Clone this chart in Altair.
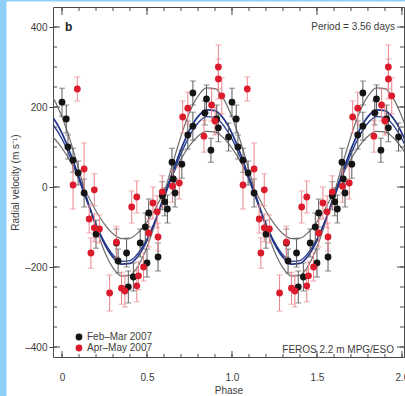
import altair as alt
import pandas as pd

# ---- data (phase-folded, shown twice) ----
BLACK_PHASE = [0.00, 0.025, 0.035, 0.065, 0.095, 0.13, 0.20, 0.32, 0.33, 0.38, 0.39, 0.42,
               0.46, 0.49, 0.50, 0.51, 0.565, 0.59, 0.605, 0.62, 0.647, 0.655, 0.665, 0.705,
               0.74, 0.77, 0.77, 0.84, 0.85, 0.876, 0.91, 0.92, 0.98]
BLACK_RV = [212, 170, 100, 67, 35, -15, -118, -140, -185, -165, -250, -225,
            -140, -100, -190, -65, -175, -22, -37, -55, 62, 20, -15, 57,
            130, 152, 235, 185, 220, 92, 170, 148, 125]
BLACK_ERR = [35, 35, 30, 30, 30, 35, 35, 35, 30, 35, 40, 35,
             35, 35, 35, 35, 35, 35, 35, 35, 35, 35, 35, 35,
             35, 35, 30, 30, 35, 30, 35, 35, 35]

RED_PHASE = [0.065, 0.09, 0.13, 0.16, 0.17, 0.19, 0.19, 0.22, 0.28, 0.32, 0.35, 0.37,
             0.41, 0.44, 0.44, 0.45, 0.48, 0.51, 0.535, 0.56, 0.565, 0.59, 0.65, 0.69,
             0.71, 0.74, 0.835, 0.88, 0.90, 0.92, 0.92, 0.94]
RED_RV = [5, 245, 45, -80, -165, -7, -102, -105, -265, -138, -253, -260,
          -50, -25, -247, -222, -200, -115, -40, -62, -125, -12, 2, 10,
          175, 197, 127, 205, 165, 300, 270, 228]
RED_ERR = [60, 30, 65, 35, 38, 40, 35, 35, 45, 40, 40, 40,
           40, 40, 40, 35, 35, 35, 40, 40, 35, 40, 40, 40,
           40, 40, 40, 40, 35, 55, 50, 45]

SERIES = ["Feb\u2013Mar 2007", "Apr\u2013May 2007"]

CURVE_PHASE = [0.00, 0.05, 0.10, 0.15, 0.20, 0.25, 0.30, 0.35, 0.40, 0.45,
               0.50, 0.55, 0.60, 0.65, 0.70, 0.75, 0.80, 0.85, 0.90, 0.95]
OUTER_GREY = [175, 114, 42, -32, -102, -161, -202, -223, -221, -196,
              -150, -89, -17, 57, 127, 186, 227, 248, 246, 221]
BLUE_A = [134, 83, 24, -36, -94, -142, -176, -193, -191, -171,
          -134, -83, -24, 36, 94, 142, 176, 193, 191, 171]
BLUE_B = [120, 73, 18, -39, -93, -138, -170, -186, -184, -164,
          -130, -83, -28, 29, 83, 128, 160, 176, 174, 154]
INNER_GREY = [97, 63, 22, -20, -60, -93, -117, -129, -128, -113,
              -87, -53, -12, 30, 70, 103, 127, 139, 138, 123]

X_TICKS = [0, 0.5, 1.0, 1.5, 2.0]
X_MINOR = [0, 0.1, 0.2, 0.3, 0.4, 0.5, 0.6, 0.7, 0.8, 0.9, 1.0,
           1.1, 1.2, 1.3, 1.4, 1.5, 1.6, 1.7, 1.8, 1.9, 2.0]
Y_TICKS = [-400, -200, 0, 200, 400]
Y_MINOR = [-400, -350, -300, -250, -200, -150, -100, -50, 0,
           50, 100, 150, 200, 250, 300, 350, 400]

PANEL = "b"
PERIOD_TEXT = "Period = 3.56 days"
INSTRUMENT_TEXT = "FEROS 2.2 m MPG/ESO"

# ---- layout ----
W, H = 351, 350
FONT = "Liberation Sans"
TXT = "#3c3c3c"
AX = "#4a4a4a"

xs = alt.Scale(domain=[-0.053, 2.012], nice=False, zero=False)
ys = alt.Scale(domain=[-425, 450], nice=False, zero=False)

x_axis = alt.Axis(values=X_TICKS, ticks=False, domain=False, grid=False,
                  labelExpr="datum.value == 0 ? '0' : format(datum.value, '.1f')",
                  labelPadding=15, labelFontSize=10, labelColor=TXT, labelFont=FONT,
                  title="Phase", titlePadding=3, titleFontSize=10, titleColor=TXT,
                  titleFont=FONT, titleFontWeight="normal")
y_axis = alt.Axis(values=Y_TICKS, tickSize=4, tickColor=AX, domain=False, grid=False,
                  labelExpr="datum.value < 0 ? '\u2013' + abs(datum.value) : '' + datum.value",
                  labelPadding=2, labelFontSize=10, labelColor=TXT, labelFont=FONT,
                  title="Radial velocity (m s\u207b\u00b9)", titlePadding=4,
                  titleFontSize=10, titleColor=TXT, titleFont=FONT,
                  titleFontWeight="normal")


def X(field):
    return alt.X(field, scale=xs, axis=x_axis)


def Y(field):
    return alt.Y(field, scale=ys, axis=y_axis)


def folded(phases, vals, errs, name):
    rows = []
    for k in (0, 1):
        for p, v, e in zip(phases, vals, errs):
            rows.append(dict(phase=p + k, rv=v, lo=v - e, hi=v + e, series=name))
    return pd.DataFrame(rows)


def periodic(values, name):
    rows = []
    for k in (-1, 0, 1, 2):
        for p, v in zip(CURVE_PHASE, values):
            q = p + k
            if -0.15 <= q <= 2.15:
                rows.append(dict(phase=q, rv=v, curve=name))
    return pd.DataFrame(rows).sort_values("phase")


black = folded(BLACK_PHASE, BLACK_RV, BLACK_ERR, SERIES[0])
red = folded(RED_PHASE, RED_RV, RED_ERR, SERIES[1])
points = pd.concat([black, red], ignore_index=True)

layers = []

# model curves
for vals, name, col, sw in [(OUTER_GREY, "outer", "#6e6e6e", 1.2),
                            (INNER_GREY, "inner", "#6e6e6e", 1.2),
                            (BLUE_B, "blueB", "#2c3f91", 1.4),
                            (BLUE_A, "blueA", "#223487", 1.7)]:
    layers.append(alt.Chart(periodic(vals, name)).mark_line(
        clip=True, interpolate="monotone", color=col, strokeWidth=sw).encode(
        x=X("phase:Q"), y=Y("rv:Q")))

# error bars
for df, col in [(black, "#5a5a5a"), (red, "#e9848c")]:
    base = alt.Chart(df)
    layers.append(base.mark_rule(color=col, strokeWidth=1).encode(
        x=X("phase:Q"), y=Y("lo:Q"), y2="hi:Q"))
    for f in ("lo", "hi"):
        layers.append(base.mark_tick(color=col, orient="horizontal", size=6,
                                     thickness=1).encode(
            x=X("phase:Q"), y=Y(f + ":Q")))

# points with legend
layers.append(alt.Chart(points).mark_circle(size=46, opacity=1).encode(
    x=X("phase:Q"), y=Y("rv:Q"),
    color=alt.Color("series:N",
                    scale=alt.Scale(domain=SERIES, range=["#141414", "#dc1c2c"]),
                    legend=alt.Legend(title=None, orient="none", legendX=21, legendY=325,
                                      symbolType="circle", symbolSize=46,
                                      symbolStrokeWidth=0, labelFontSize=10,
                                      labelColor=TXT, labelFont=FONT, rowPadding=1,
                                      labelOffset=3, padding=0))))

# inward frame ticks
ymin = pd.DataFrame({"v": Y_MINOR})
ymaj = pd.DataFrame({"v": Y_TICKS})
xmin = pd.DataFrame({"v": X_MINOR})
xmaj = pd.DataFrame({"v": X_TICKS})
layers += [
    alt.Chart(ymin).mark_rule(color=AX).encode(y=Y("v:Q"), x=alt.value(0), x2=alt.value(4)),
    alt.Chart(ymaj).mark_rule(color=AX).encode(y=Y("v:Q"), x=alt.value(0), x2=alt.value(7)),
    alt.Chart(ymin).mark_rule(color=AX).encode(y=Y("v:Q"), x=alt.value(W), x2=alt.value(W - 4)),
    alt.Chart(ymaj).mark_rule(color=AX).encode(y=Y("v:Q"), x=alt.value(W), x2=alt.value(W - 7)),
    alt.Chart(xmin).mark_rule(color=AX).encode(x=X("v:Q"), y=alt.value(0), y2=alt.value(4)),
    alt.Chart(xmaj).mark_rule(color=AX).encode(x=X("v:Q"), y=alt.value(0), y2=alt.value(8)),
    alt.Chart(xmin).mark_rule(color=AX).encode(x=X("v:Q"), y=alt.value(H), y2=alt.value(H - 3)),
    alt.Chart(xmaj).mark_rule(color=AX).encode(x=X("v:Q"), y=alt.value(H), y2=alt.value(H - 6)),
]

# light blue page strips
strip = pd.DataFrame({"k": [0]})
layers.append(alt.Chart(strip).mark_rect(color="#8dcff6").encode(
    x=alt.value(-53), x2=alt.value(-46.5), y=alt.value(-7), y2=alt.value(389)))
layers.append(alt.Chart(strip).mark_rect(color="#8dcff6").encode(
    x=alt.value(-53), x2=alt.value(352), y=alt.value(-7), y2=alt.value(-5.5)))


# annotations
def label(text, x, y, align, size, weight="normal"):
    return alt.Chart(pd.DataFrame({"t": [text]})).mark_text(
        align=align, baseline="middle", fontSize=size, fontWeight=weight,
        font=FONT, color="#1e1e1e" if weight == "bold" else TXT).encode(
        x=alt.value(x), y=alt.value(y), text="t:N")


layers += [
    label(PANEL, 12, 20, "left", 12, "bold"),
    label(PERIOD_TEXT, 342, 20, "right", 10),
    label(INSTRUMENT_TEXT, 341, 343, "right", 10),
]

chart = alt.layer(*layers).properties(
    width=W, height=H,
    autosize=alt.AutoSizeParams(type="none"),
    padding={"left": 53, "top": 7, "right": 1, "bottom": 39},
    background="white",
).configure(font=FONT).configure_view(stroke=AX, strokeWidth=1)

chart.save("out.html", embed_options={"renderer": "svg", "actions": False})
